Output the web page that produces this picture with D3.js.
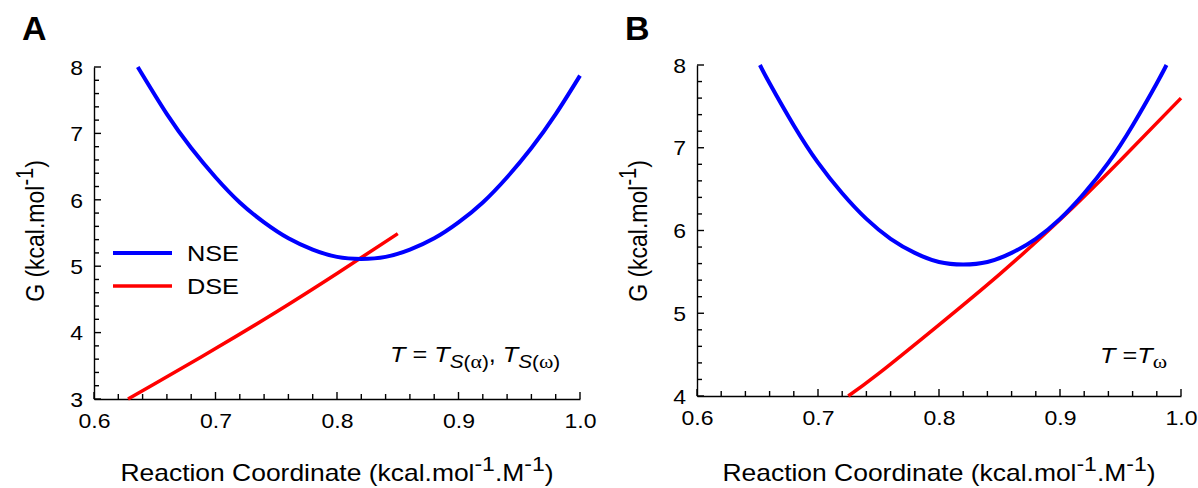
<!DOCTYPE html>
<html>
<head>
<meta charset="utf-8">
<script src="https://cdn.jsdelivr.net/npm/d3@7"></script>
<style>
	body { margin: 0; background: #fff; }
	svg { display: block; font-family: Arial, 'Liberation Sans', sans-serif; }
</style>
</head>
<body>
<svg id="mainsvg" width="1198" height="488"></svg>
<script>
// values
var xTicks = [0.6, 0.7, 0.8, 0.9, 1.0];
var yTicksA = [3, 4, 5, 6, 7, 8];
var yTicksB = [4, 5, 6, 7, 8];

var nseA_x = [0.636, 0.66, 0.68, 0.70, 0.72, 0.74, 0.76, 0.78, 0.80, 0.82, 0.84, 0.86, 0.88, 0.90, 0.92, 0.94, 0.96, 0.98, 1.00];
var nseA_g = [8.00, 7.29, 6.78, 6.34, 5.96, 5.66, 5.42, 5.25, 5.14, 5.11, 5.14, 5.25, 5.42, 5.66, 5.96, 6.34, 6.78, 7.29, 7.87];
var dseA_x = [0.628, 0.65, 0.70, 0.75, 0.80, 0.85];
var dseA_g = [3.00, 3.23, 3.76, 4.31, 4.89, 5.49];

var nseB_x = [0.652, 0.66, 0.68, 0.70, 0.72, 0.74, 0.76, 0.78, 0.80, 0.82, 0.84, 0.86, 0.88, 0.90, 0.92, 0.94, 0.96, 0.98, 0.988];
var nseB_g = [8.00, 7.78, 7.27, 6.82, 6.45, 6.14, 5.90, 5.73, 5.62, 5.59, 5.62, 5.73, 5.90, 6.14, 6.45, 6.82, 7.27, 7.78, 8.00];
var dseB_x = [0.725, 0.75, 0.80, 0.85, 0.90, 0.95, 1.00];
var dseB_g = [4.00, 4.27, 4.86, 5.47, 6.13, 6.85, 7.60];

var legendNames = ['NSE', 'DSE'];
var colors = { NSE: '#0000ff', DSE: '#ff0000' };
var widths = { NSE: 4, DSE: 3.5 };

var SX = 1.15; // the figure's text is a bit wide
var svg = d3.select('#mainsvg');

function zip(xs, gs) {
	return xs.map(function (x, i) { return { x: x, g: gs[i] }; });
}

function Panel(opt) {
	this.opt = opt;
	this.g = svg.append('g').attr('id', 'panel' + opt.letter);
	this.x = d3.scaleLinear().domain([0.6, 1.0]).range([opt.left, opt.right]);
	this.y = d3.scaleLinear().domain(opt.ydom).range([opt.bottom, opt.top]);
}

Panel.prototype.Render = function () {
	var _this = this;
	var o = this.opt;
	var g = this.g;

	var xMinor = d3.range(0.6, 1.0001, 0.02);
	var yMinor = d3.range(o.ydom[0], o.ydom[1] + 0.0001, 0.2);

	// inward ticks
	g.append('g').selectAll('line').data(xMinor).enter().append('line')
		.attr('x1', function (d) { return _this.x(d); })
		.attr('x2', function (d) { return _this.x(d); })
		.attr('y1', o.bottom)
		.attr('y2', function (d, i) { return o.bottom - (i % 5 === 0 ? 7 : 5); })
		.attr('stroke', '#000').attr('stroke-width', 1.4);
	g.append('g').selectAll('line').data(yMinor).enter().append('line')
		.attr('y1', function (d) { return _this.y(d); })
		.attr('y2', function (d) { return _this.y(d); })
		.attr('x1', o.left)
		.attr('x2', function (d, i) { return o.left + (i % 5 === 0 ? 7 : 5); })
		.attr('stroke', '#000').attr('stroke-width', 1.4);

	var xa = g.append('g')
		.attr('transform', 'translate(0,' + o.bottom + ')')
		.call(d3.axisBottom(this.x).tickValues(xTicks).tickSize(0).tickPadding(15)
			.tickFormat(d3.format('.1f')));
	var ya = g.append('g')
		.attr('transform', 'translate(' + o.left + ',0)')
		.call(d3.axisLeft(this.y).tickValues(o.yticks).tickSize(0).tickPadding(9.6)
			.tickFormat(d3.format('d')));

	g.selectAll('.domain').attr('stroke', '#000').attr('stroke-width', 1.4);
	g.selectAll('.tick text').attr('font-size', 20).attr('fill', '#000')
		.attr('font-family', 'Arial, Liberation Sans, sans-serif')
		.attr('transform', 'scale(' + SX + ',1)');
	ya.selectAll('.tick text').attr('dy', '0.36em');

	var line = d3.line()
		.x(function (d) { return _this.x(d.x); })
		.y(function (d) { return _this.y(d.g); })
		.curve(d3.curveNatural);

	g.append('path').datum(o.dse)
		.attr('fill', 'none').attr('stroke', colors.DSE).attr('stroke-width', widths.DSE)
		.attr('d', line);
	g.append('path').datum(o.nse)
		.attr('fill', 'none').attr('stroke', colors.NSE).attr('stroke-width', widths.NSE)
		.attr('d', line);

	// panel letter
	g.append('text')
		.attr('x', o.letterX).attr('y', 40)
		.attr('font-size', 34).attr('font-weight', 'bold')
		.text(o.letter);

	// x label
	var xl = g.append('text')
		.attr('transform', 'translate(' + ((o.left + o.right) / 2) + ',481) scale(' + SX + ',1)')
		.attr('text-anchor', 'middle').attr('font-size', 23);
	xl.append('tspan').text('Reaction Coordinate (kcal.mol');
	xl.append('tspan').attr('dy', -10).attr('font-size', 20).text('-1');
	xl.append('tspan').attr('dy', 10).text('.M');
	xl.append('tspan').attr('dy', -10).attr('font-size', 20).text('-1');
	xl.append('tspan').attr('dy', 10).text(')');

	// y label
	var yl = g.append('text')
		.attr('transform', 'translate(' + (o.left - 50) + ',231) scale(' + SX + ',1) rotate(-90)')
		.attr('text-anchor', 'middle').attr('font-size', 23);
	yl.append('tspan').text('G (kcal.mol');
	yl.append('tspan').attr('dy', -10).attr('font-size', 20).text('-1');
	yl.append('tspan').attr('dy', 10).text(')');
};

var panelA = new Panel({
	letter: 'A', letterX: 22, left: 94, right: 580, top: 67, bottom: 399,
	ydom: [3, 8], yticks: yTicksA,
	nse: zip(nseA_x, nseA_g), dse: zip(dseA_x, dseA_g)
});
panelA.Render();

var panelB = new Panel({
	letter: 'B', letterX: 625, left: 697, right: 1181, top: 65, bottom: 396,
	ydom: [4, 8], yticks: yTicksB,
	nse: zip(nseB_x, nseB_g), dse: zip(dseB_x, dseB_g)
});
panelB.Render();

// legend in panel A
var leg = panelA.g.append('g').attr('class', 'legend');
legendNames.forEach(function (name, i) {
	var yy = 253 + i * 33;
	leg.append('line')
		.attr('x1', 113).attr('x2', 172).attr('y1', yy).attr('y2', yy)
		.attr('stroke', colors[name]).attr('stroke-width', widths[name]);
	leg.append('text')
		.attr('transform', 'translate(187,' + yy + ') scale(' + SX + ',1)')
		.attr('dy', '0.36em')
		.attr('font-size', 22).text(name);
});

// annotations
var greek = 'Liberation Serif, Times New Roman, serif';
var annA = panelA.g.append('text')
	.attr('transform', 'translate(390,362) scale(' + SX + ',1)').attr('font-size', 22);
annA.append('tspan').attr('font-style', 'italic').text('T');
annA.append('tspan').text(' = ');
annA.append('tspan').attr('font-style', 'italic').text('T');
annA.append('tspan').attr('dy', 6).attr('font-size', 18).attr('font-style', 'italic').text('S');
annA.append('tspan').attr('font-size', 18).text('(');
annA.append('tspan').attr('font-size', 19).attr('font-family', greek).text('α');
annA.append('tspan').attr('font-size', 18).text(')');
annA.append('tspan').attr('dy', -6).text(', ');
annA.append('tspan').attr('font-style', 'italic').text('T');
annA.append('tspan').attr('dy', 6).attr('font-size', 18).attr('font-style', 'italic').text('S');
annA.append('tspan').attr('font-size', 18).text('(');
annA.append('tspan').attr('font-size', 19).attr('font-family', greek).text('ω');
annA.append('tspan').attr('font-size', 18).text(')');

var annB = panelB.g.append('text')
	.attr('transform', 'translate(1100,363) scale(' + SX + ',1)').attr('font-size', 22);
annB.append('tspan').attr('font-style', 'italic').text('T');
annB.append('tspan').text(' =');
annB.append('tspan').attr('font-style', 'italic').text('T');
annB.append('tspan').attr('dy', 5).attr('font-size', 19).attr('font-family', greek).text('ω');
</script>
</body>
</html>
